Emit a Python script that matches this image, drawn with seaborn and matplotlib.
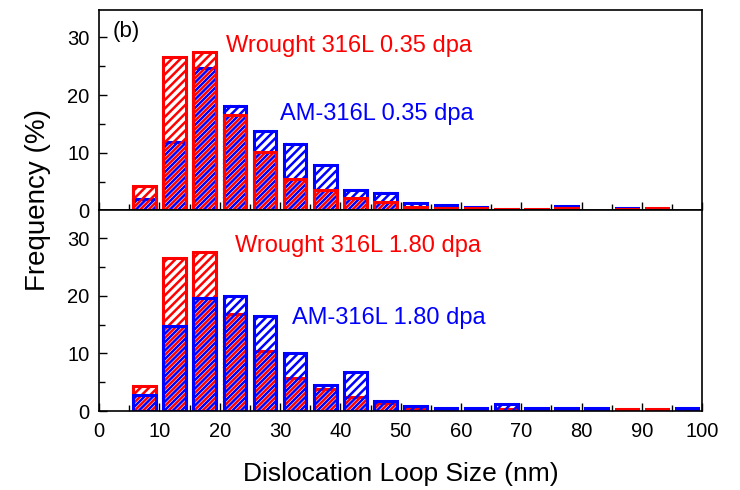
import numpy as np
import pandas as pd
import matplotlib
matplotlib.use("Agg")
import matplotlib.pyplot as plt
from matplotlib.ticker import MultipleLocator
from matplotlib.collections import LineCollection
from matplotlib.transforms import IdentityTransform
import seaborn as sns

# bin centres (nm)
sizes = [7.5, 12.5, 17.5, 22.5, 27.5, 32.5, 37.5, 42.5, 47.5, 52.5,
         57.5, 62.5, 67.5, 72.5, 77.5, 82.5, 87.5, 92.5, 97.5]

# frequency (%), 0 = no bar
wrought_035 = [4.2, 26.6, 27.5, 16.6, 10.2, 5.5, 3.6, 2.1, 1.4, 0.6,
               0.5, 0.4, 0.3, 0.2, 0.4, 0, 0.3, 0.4, 0]
am_035 = [2.0, 11.8, 24.7, 18.2, 13.7, 11.6, 7.8, 3.6, 3.1, 1.3,
          0.9, 0.6, 0, 0, 0.7, 0, 0.4, 0, 0]
wrought_180 = [4.4, 26.6, 27.6, 16.9, 10.5, 5.7, 3.9, 2.4, 1.4, 0.5,
               0.4, 0.3, 0.3, 0, 0, 0, 0.4, 0.4, 0]
am_180 = [2.8, 14.8, 19.7, 20.0, 16.5, 10.0, 4.5, 6.8, 1.8, 0.9,
          0.5, 0.5, 1.2, 0.5, 0.5, 0.5, 0, 0, 0.5]

RED = "#ff0000"
BLUE = "#0000ff"
HATCH_STEP = 8.5   # horizontal spacing of hatch lines, px

plt.rcParams["font.family"] = ["Liberation Sans", "DejaVu Sans"]


def hatched_bars(ax, values, color, z):
    df = pd.DataFrame({"size": sizes, "freq": values})
    df = df[df["freq"] > 0]
    n_before = len(ax.patches)
    sns.barplot(data=df, x="size", y="freq", native_scale=True, width=0.75,
                errorbar=None, color=color, ax=ax)
    new = ax.patches[n_before:]
    for p in new:
        p.set_facecolor("none")
        p.set_edgecolor(color)
        p.set_linewidth(2.2)
        p.set_zorder(z)
    return new


def add_hatch(ax, patches, color, phase, z):
    # diagonal "/" lines inside each bar, with a chosen phase so two
    # overlapping series stay visible
    for p in patches:
        bb = p.get_window_extent()
        x0, y0, x1, y1 = bb.x0, bb.y0, bb.x1, bb.y1
        segs = []
        cmin = y0 - x1
        cmax = y1 - x0
        c = np.floor((cmin - phase) / HATCH_STEP) * HATCH_STEP + phase
        while c <= cmax:
            xa = max(x0, y0 - c)
            xb = min(x1, y1 - c)
            if xb > xa:
                segs.append([(xa, xa + c), (xb, xb + c)])
            c += HATCH_STEP
        lc = LineCollection(segs, colors=color, linewidths=1.8,
                            transform=IdentityTransform(), zorder=z,
                            capstyle="butt")
        ax.add_collection(lc, autolim=False)


fig, (ax1, ax2) = plt.subplots(2, 1, figsize=(7.4, 4.9), dpi=100, sharex=True)
fig.subplots_adjust(left=0.134, right=0.949, top=0.98, bottom=0.161, hspace=0)

# top: blue first, red on top
b1 = hatched_bars(ax1, am_035, BLUE, 1.0)
r1 = hatched_bars(ax1, wrought_035, RED, 1.2)
# bottom: red first, blue on top
r2 = hatched_bars(ax2, wrought_180, RED, 1.0)
b2 = hatched_bars(ax2, am_180, BLUE, 1.2)

for ax in (ax1, ax2):
    ax.set_xlim(0, 100)
    ax.set_ylim(0, 34.8)
    ax.set_yticks([0, 10, 20, 30])
    ax.yaxis.set_minor_locator(MultipleLocator(5))
    ax.xaxis.set_major_locator(MultipleLocator(10))
    ax.xaxis.set_minor_locator(MultipleLocator(5))
    ax.tick_params(which="both", direction="in", labelsize=14.5, width=1)
    ax.tick_params(axis="y", pad=7)
    ax.tick_params(axis="x", pad=8)
    ax.tick_params(which="major", length=6)
    ax.tick_params(which="minor", length=4)
    ax.set_xlabel("")
    ax.set_ylabel("")
    for s in ax.spines.values():
        s.set_linewidth(1.2)
        s.set_color("black")

ax2.set_xticks(range(0, 101, 10))
ax2.set_xticklabels([str(v) for v in range(0, 101, 10)])
ax1.tick_params(labelbottom=False)

# hatching once the layout is fixed
add_hatch(ax1, b1, BLUE, 0.0, 1.1)
add_hatch(ax1, r1, RED, HATCH_STEP / 2, 1.3)
add_hatch(ax2, r2, RED, HATCH_STEP / 2, 1.1)
add_hatch(ax2, b2, BLUE, 0.0, 1.3)

ax1.text(2.3, 31.0, "(b)", fontsize=16, va="center", ha="left")
ax1.text(21.1, 28.6, "Wrought 316L 0.35 dpa", color=RED, fontsize=17, va="center")
ax1.text(30.0, 16.8, "AM-316L 0.35 dpa", color=BLUE, fontsize=17, va="center")
ax2.text(22.5, 28.6, "Wrought 316L 1.80 dpa", color=RED, fontsize=17, va="center")
ax2.text(31.9, 16.1, "AM-316L 1.80 dpa", color=BLUE, fontsize=17, va="center")

ax2.set_xlabel("Dislocation Loop Size (nm)", fontsize=19, labelpad=15)
fig.text(0.051, 0.592, "Frequency (%)", rotation=90, fontsize=20,
         ha="center", va="center")

fig.savefig("out.png", dpi=100)
